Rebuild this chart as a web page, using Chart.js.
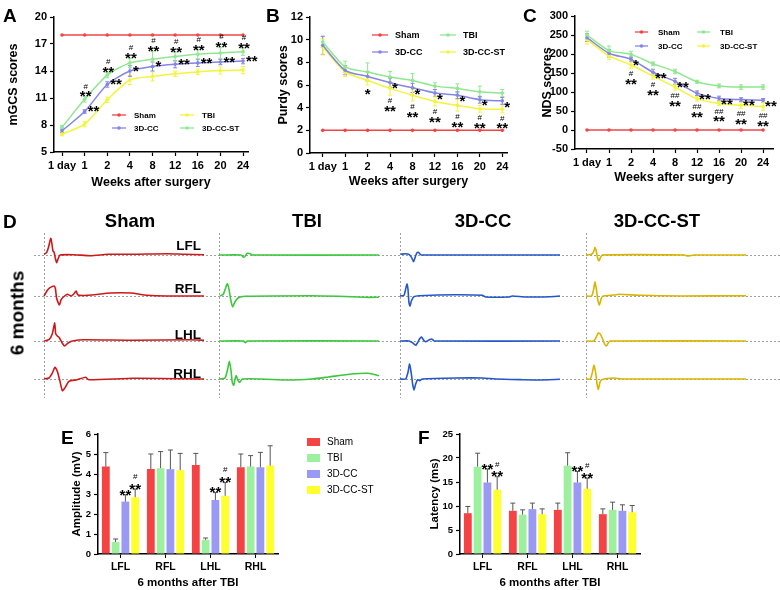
<!DOCTYPE html>
<html><head><meta charset="utf-8">
<script src="https://cdn.jsdelivr.net/npm/chart.js@4.4.1/dist/chart.umd.min.js"></script>
<style>
body{margin:0;background:#fff;}
#wrap{position:relative;width:780px;height:590px;overflow:hidden;font-family:"Liberation Sans",Arial,sans-serif;background:#fff;}
canvas{position:absolute;}
.t{position:absolute;font-weight:bold;line-height:1;white-space:nowrap;color:#000;}
.pl{font-size:19px;}
.hd{font-size:18.5px;transform:translateX(-50%);}
.lb{font-size:13.5px;}
</style></head><body>
<div id="wrap">
  <canvas id="cA" width="260" height="200" style="left:0;top:0"></canvas>
  <canvas id="cB" width="260" height="200" style="left:255px;top:0"></canvas>
  <canvas id="cC" width="265" height="200" style="left:515px;top:0"></canvas>
  <canvas id="cD" width="780" height="172" style="left:0;top:228px"></canvas>
  <canvas id="cE" width="400" height="180" style="left:0;top:410px"></canvas>
  <canvas id="cF" width="380" height="180" style="left:400px;top:410px"></canvas>

  <div class="t pl" style="left:3px;top:6px">A</div>
  <div class="t pl" style="left:266px;top:6px">B</div>
  <div class="t pl" style="left:523px;top:6px">C</div>
  <div class="t pl" style="left:3px;top:212px">D</div>
  <div class="t pl" style="left:61px;top:428px">E</div>
  <div class="t pl" style="left:418px;top:428px">F</div>

  <div class="t hd" style="left:130px;top:212px">Sham</div>
  <div class="t hd" style="left:307px;top:212px">TBI</div>
  <div class="t hd" style="left:483px;top:212px">3D-CC</div>
  <div class="t hd" style="left:657px;top:212px">3D-CC-ST</div>
  <div class="t" style="left:17px;top:313px;font-size:19px;transform:translate(-50%,-50%) rotate(-90deg);">6 months</div>

  <div class="t lb" style="right:579px;top:239px">LFL</div>
  <div class="t lb" style="right:579px;top:282px">RFL</div>
  <div class="t lb" style="right:579px;top:328px">LHL</div>
  <div class="t lb" style="right:579px;top:367px">RHL</div>
</div>
<script>
// ---------------- DATA ----------------
const weekLabels = ['1 day','1','2','4','8','12','16','20','24'];
const groupNames = ['Sham','TBI','3D-CC','3D-CC-ST'];
const limbs = ['LFL','RFL','LHL','RHL'];

// Panel A: mGCS scores
const mgcsTicks = [5, 8, 11, 14, 17, 20];
const mgcsSham = [18, 18, 18, 18, 18, 18, 18, 18, 18];
const mgcsTBI  = [7.0, 8.1, 10.8, 13.0, 13.4, 13.7, 13.9, 14.05, 14.1];
const mgcsCC   = [7.35, 9.5, 12.5, 14.0, 14.5, 14.75, 14.9, 15.0, 15.1];
const mgcsST   = [7.75, 10.85, 13.55, 14.9, 15.3, 15.6, 15.85, 16.0, 16.15];
const mgcsErrTBI = [0.2, 0.3, 0.3, 0.5, 0.5, 0.3, 0.3, 0.4, 0.4];
const mgcsErrCC  = [0.2, 0.2, 0.3, 0.6, 0.5, 0.4, 0.4, 0.3, 0.3];
const mgcsErrST  = [0.2, 0.3, 0.3, 0.5, 0.9, 0.5, 0.5, 0.6, 0.4];
const mgcsStarsCC = ['', '**', '**', '*', '*', '**', '**', '**', '**'];
const mgcsStarsST = ['', '**', '**', '**', '**', '**', '**', '**', '**'];
const mgcsHashST  = ['', '#', '#', '#', '#', '#', '#', '#', '#'];

// Panel B: Purdy scores
const purdyTicks = [0, 2, 4, 6, 8, 10, 12];
const purdySham = [2, 2, 2, 2, 2, 2, 2, 2, 2];
const purdyTBI  = [9.8, 7.6, 7.15, 6.7, 6.4, 5.9, 5.7, 5.4, 5.3];
const purdyCC   = [9.5, 7.3, 6.75, 6.2, 5.75, 5.3, 5.1, 4.7, 4.6];
const purdyST   = [9.35, 7.15, 6.4, 5.7, 5.1, 4.55, 4.2, 3.9, 3.85];
const purdyErrTBI = [0.5, 0.5, 0.8, 0.5, 0.6, 0.3, 0.4, 0.5, 0.3];
const purdyErrCC  = [0.8, 0.4, 0.4, 0.4, 0.4, 0.3, 0.3, 0.3, 0.3];
const purdyErrST  = [0.7, 0.4, 0.4, 0.6, 0.5, 0.4, 0.5, 0.3, 0.3];
const purdyStarsCC = ['', '', '', '*', '*', '*', '*', '*', '*'];
const purdyStarsST = ['', '', '*', '**', '**', '**', '**', '**', '**'];
const purdyHashST  = ['', '', '', '#', '#', '#', '#', '#', '#'];

// Panel C: NDS scores
const ndsTicks = [-50, 0, 50, 100, 150, 200, 250, 300];
const ndsSham = [0, 0, 0, 0, 0, 0, 0, 0, 0];
const ndsTBI  = [250, 209, 199, 174, 154, 127, 116, 113, 113];
const ndsCC   = [243, 202, 186, 152, 128, 97, 83, 80, 78];
const ndsST   = [238, 195, 171, 142, 113, 82, 70, 65, 62];
const ndsErrTBI = [10, 12, 8, 5, 6, 4, 5, 6, 6];
const ndsErrCC  = [10, 10, 6, 8, 8, 6, 6, 5, 5];
const ndsErrST  = [12, 10, 8, 8, 8, 6, 6, 8, 10];
const ndsStarsCC = ['', '', '*', '**', '**', '**', '**', '**', '**'];
const ndsStarsST = ['', '', '**', '**', '**', '**', '**', '**', '**'];
const ndsHashST  = ['', '', '#', '#', '##', '##', '##', '##', '##'];

// Panel D: representative MEP waveforms (x: ms, y: mV)
const shamLFL = [[0,0.07],[0.17,0.27],[0.29,0.83],[0.42,1.67],[0.5,1.07],[0.56,0.4],[0.63,0.27],[0.71,-0.33],[0.79,-0.77],[0.875,-0.4],[1.0,0],[1.875,0.03],[2.92,-0.07],[3.96,0.07],[5.6,0.07],[7.7,0.13],[8.75,0.07],[10,0.03]];
const shamRFL = [[0,0],[0.21,0.57],[0.375,0.83],[0.625,1.0],[0.71,0.77],[0.79,-0.23],[0.96,-0.9],[1.08,-0.33],[1.29,0],[1.46,0.17],[1.71,0],[1.875,0.23],[2.0,0.5],[2.125,0.1],[2.71,0.07],[4.17,0.3],[5.42,0.3],[6.46,0.07],[7.7,0],[10,0]];
const shamLHL = [[0,0],[0.31,0.13],[0.52,0.73],[0.67,1.83],[0.73,0.73],[0.83,0.5],[0.96,0.33],[1.125,-0.17],[1.29,-0.5],[1.5,-0.2],[1.77,0],[2.5,0.13],[5.6,0.07],[9.17,0.13],[10,0.07]];
const shamRHL = [[0,0],[0.31,0.1],[0.52,0.6],[0.69,1.17],[0.83,0.77],[0.98,-0.1],[1.15,-1.17],[1.35,-0.77],[1.56,-0.23],[2.08,-0.07],[2.6,0.17],[2.8,-0.07],[5.6,0.07],[10,0]];
const tbiLFL = [[0,0],[1.375,0],[1.54,-0.23],[1.65,-0.07],[1.77,0.17],[1.96,0.13],[2.08,0],[10,0]];
const tbiRFL = [[0.06,0],[0.27,0.17],[0.42,0.83],[0.52,1.23],[0.625,0.67],[0.73,-0.33],[0.85,-1.07],[1.0,-0.57],[1.21,-0.17],[1.625,-0.03],[5.79,0.03],[7.46,-0.03],[9.125,-0.13],[10,-0.13]];
const tbiLHL = [[0,0],[1.52,0],[1.65,-0.17],[1.77,0],[10,0]];
const tbiRHL = [[0.06,0],[0.375,0.1],[0.52,0.83],[0.65,1.77],[0.75,0.83],[0.83,-0.33],[0.92,-0.63],[1.0,-0.03],[1.08,0.33],[1.19,-0.17],[1.29,-0.33],[1.46,0],[2.67,0],[4.33,-0.1],[5.79,0],[6.83,0.2],[8.29,0.5],[9.33,0.57],[10,0.33]];
const ccLFL = [[0.04,0.07],[0.35,0.13],[0.56,0.07],[0.73,-0.27],[0.85,-0.67],[0.94,-0.27],[1.04,0.17],[1.15,0.27],[1.27,0.07],[1.4,0],[10,0]];
const ccRFL = [[0,0],[0.25,0.07],[0.35,0.67],[0.44,1.23],[0.5,0.67],[0.56,-0.67],[0.625,-1.0],[0.71,-0.5],[0.875,-0.07],[1.19,0.03],[3.48,0.13],[5.15,0.07],[5.35,-0.1],[6.81,-0.1],[7.02,0],[7.85,-0.1],[9.31,-0.07],[10,0]];
const ccLHL = [[0,0],[0.56,0],[0.77,-0.17],[0.98,-0.43],[1.1,-0.17],[1.23,0.23],[1.35,0.4],[1.48,0.07],[1.6,-0.07],[1.81,0.1],[1.98,0.2],[2.15,0],[10,0]];
const ccRHL = [[0,0],[0.35,0],[0.5,0.67],[0.6,1.5],[0.71,0.5],[0.79,-0.5],[0.875,-1.1],[0.98,-0.5],[1.1,-0.07],[1.23,-0.17],[1.4,0],[3.48,0.1],[5.15,0.1],[5.98,0],[7.65,-0.07],[8.69,-0.1],[10,-0.03]];
const stLFL = [[0,0],[0.35,0.07],[0.48,0.33],[0.56,0.77],[0.65,0.33],[0.73,-0.33],[0.81,-0.57],[0.9,-0.27],[1.02,0],[6.15,0],[6.35,-0.1],[6.77,0],[10,0]];
const stRFL = [[0,0],[0.35,0],[0.48,0.67],[0.56,1.43],[0.65,0.67],[0.73,-0.33],[0.83,-0.9],[0.94,-0.33],[1.04,-0.03],[1.77,0.1],[2.08,0.17],[3.44,0.07],[5.94,0],[10,0.03]];
const stLHL = [[0,0],[0.48,0],[0.625,0.33],[0.77,0.8],[0.9,0.67],[1.02,0.27],[1.15,-0.27],[1.27,-0.5],[1.4,-0.17],[1.52,0],[10,0]];
const stRHL = [[0,0],[0.27,0],[0.4,0.67],[0.5,1.4],[0.6,0.67],[0.69,-0.5],[0.77,-1.03],[0.875,-0.33],[0.98,-0.07],[1.77,0.1],[2.19,0],[10,0]];

// Panel E: amplitude (mV)
const ampTicks = [0, 1, 2, 3, 4, 5, 6];
const ampSham = [4.37, 4.25, 4.45, 4.34];
const ampTBI  = [0.60, 4.29, 0.71, 4.37];
const ampCC   = [2.62, 4.24, 2.70, 4.34];
const ampST   = [2.84, 4.19, 2.91, 4.42];
const ampErrSham = [0.70, 0.75, 0.58, 0.66];
const ampErrTBI  = [0.15, 0.83, 0.09, 0.55];
const ampErrCC   = [0.34, 0.96, 0.37, 0.74];
const ampErrST   = [0.40, 0.84, 0.66, 0.99];
const ampStarsCC = ['**', '', '**', ''];
const ampStarsST = ['**', '', '**', ''];
const ampHashST  = ['#', '', '#', ''];

// Panel F: latency (ms)
const latTicks = [0, 5, 10, 15, 20, 25];
const latSham = [8.5, 9.0, 9.2, 8.3];
const latTBI  = [18.2, 8.2, 18.4, 9.2];
const latCC   = [14.9, 9.35, 14.9, 9.0];
const latST   = [13.4, 8.3, 13.6, 8.7];
const latErrSham = [1.4, 1.6, 1.4, 1.1];
const latErrTBI  = [2.8, 1.0, 2.7, 1.6];
const latErrCC   = [2.8, 1.25, 2.3, 1.25];
const latErrST   = [2.7, 1.1, 2.2, 1.4];
const latStarsCC = ['**', '', '**', ''];
const latStarsST = ['**', '', '**', ''];
const latHashST  = ['#', '', '#', ''];

// ---------------- STYLE ----------------
const FONT = '"Liberation Sans", Arial, sans-serif';
Chart.defaults.font.family = FONT;
Chart.defaults.color = '#000';
const cRed = '#ef4646', cGreen = '#8fe88f', cBlue = '#8585e6', cYellow = '#f4f43c';
const barRed = '#f54242', barGreen = '#9df09d', barBlue = '#9a9af4', barYellow = '#ffff2e';
const waveColors = ['#cc1a1a', '#3cc83c', '#2557c8', '#d9b500'];

// ---------------- PLUGINS ----------------
const valOf = v => (v !== null && typeof v === 'object') ? v.y : v;

function drawErr(chart, opts) {
  const ctx = chart.ctx;
  chart.data.datasets.forEach((ds, di) => {
    if (!ds.errors) return;
    const meta = chart.getDatasetMeta(di);
    const ys = chart.scales[meta.yAxisID];
    ctx.save();
    ctx.strokeStyle = opts.color || ds.borderColor;
    ctx.lineWidth = opts.width || 1;
    meta.data.forEach((el, i) => {
      const e = ds.errors[i];
      if (!e) return;
      const v = valOf(ds.data[i]);
      const x = el.x;
      const yT = ys.getPixelForValue(v + e);
      const yB = opts.upOnly ? ys.getPixelForValue(v) : ys.getPixelForValue(v - e);
      const cap = opts.cap || 2;
      ctx.beginPath();
      ctx.moveTo(x, yB); ctx.lineTo(x, yT);
      ctx.moveTo(x - cap, yT); ctx.lineTo(x + cap, yT);
      if (!opts.upOnly) { ctx.moveTo(x - cap, yB); ctx.lineTo(x + cap, yB); }
      ctx.stroke();
    });
    ctx.restore();
  });
}
const errPlugin = {
  id: 'errbars',
  beforeDatasetsDraw(chart, args, opts) { if (opts.layer === 'before') drawErr(chart, opts); },
  afterDatasetsDraw(chart, args, opts) { if (opts.layer !== 'before') drawErr(chart, opts); }
};

const sigPlugin = {
  id: 'sig',
  afterDatasetsDraw(chart, args, opts) {
    const ctx = chart.ctx;
    const sSize = opts.starSize || 15, hSize = opts.hashSize || 8;
    const drawStars = (t, x, cy, align) => {
      ctx.font = 'bold ' + sSize + 'px ' + FONT; ctx.textAlign = align; ctx.textBaseline = 'alphabetic';
      ctx.fillText(t, x, cy + 0.58 * sSize);
    };
    const drawHash = (t, x, cy, align) => {
      ctx.font = hSize + 'px ' + FONT; ctx.textAlign = align; ctx.textBaseline = 'alphabetic';
      ctx.fillText(t, x, cy + 0.36 * hSize);
    };
    ctx.save();
    ctx.fillStyle = '#000';
    (opts.marks || []).forEach(m => {
      const ds = chart.data.datasets[m.ds];
      const meta = chart.getDatasetMeta(m.ds);
      const ys = chart.scales[meta.yAxisID];
      meta.data.forEach((el, i) => {
        const st = (m.stars && m.stars[i]) || '';
        const hs = (m.hash && m.hash[i]) || '';
        if (!st && !hs) return;
        const v = valOf(ds.data[i]);
        const e = ds.errors ? (ds.errors[i] || 0) : 0;
        const x = el.x + (m.dx || 0);
        if (m.mode === 'above') {
          let cy = ys.getPixelForValue(v + e) - (m.gap || 5);
          if (st) { drawStars(st, x, cy, 'center'); cy -= (m.step || 7); }
          if (hs) drawHash(hs, x + (m.hdx || 0), cy, 'center');
        } else if (m.mode === 'below') {
          let cy = ys.getPixelForValue(v - e) + (m.gap || 5);
          if (hs) { drawHash(hs, x, cy, 'center'); cy += (m.step || 7); }
          if (st) drawStars(st, x, cy, 'center');
        } else {
          const cy = el.y + (m.dy || 0);
          if (st) drawStars(st, x, cy, 'left');
        }
      });
    });
    ctx.restore();
  }
};

const lineLegend = {
  id: 'lineLegend',
  afterDraw(chart, args, opts) {
    if (!opts.items) return;
    const ctx = chart.ctx, a = chart.chartArea;
    ctx.save();
    ctx.font = 'bold ' + opts.size + 'px ' + FONT;
    ctx.textBaseline = 'middle'; ctx.textAlign = 'left';
    opts.items.forEach(it => {
      const ds = chart.data.datasets[it.ds];
      const x = a.left + it.x, y = a.top + it.y;
      ctx.strokeStyle = ds.borderColor; ctx.lineWidth = 1.3;
      ctx.beginPath(); ctx.moveTo(x, y); ctx.lineTo(x + opts.len, y); ctx.stroke();
      ctx.fillStyle = ds.borderColor;
      ctx.beginPath(); ctx.arc(x + opts.len / 2, y, 1.8, 0, Math.PI * 2); ctx.fill();
      ctx.fillStyle = '#000';
      ctx.fillText(ds.label, x + opts.len + opts.gap, y + 0.5);
    });
    ctx.restore();
  }
};

const boxLegend = {
  id: 'boxLegend',
  afterDraw(chart, args, opts) {
    if (!opts.show) return;
    const ctx = chart.ctx, a = chart.chartArea;
    ctx.save();
    ctx.font = opts.size + 'px ' + FONT;
    ctx.textBaseline = 'middle'; ctx.textAlign = 'left';
    chart.data.datasets.forEach((ds, i) => {
      const x = a.right + opts.x, y = a.top + opts.y + i * opts.row;
      ctx.fillStyle = ds.backgroundColor;
      ctx.fillRect(x, y - 4, 13, 8);
      ctx.fillStyle = '#000';
      ctx.fillText(ds.label, x + 20, y + 0.5);
    });
    ctx.restore();
  }
};

// ---------------- HELPERS ----------------
function yAxis(min, max, ticks, title, width, tickSize, titleSize) {
  return {
    type: 'linear', min, max,
    afterBuildTicks: s => { s.ticks = ticks.map(v => ({ value: v })); },
    afterFit: s => { s.width = width; },
    border: { display: true, color: '#000', width: 1.5 },
    grid: { display: true, drawOnChartArea: false, drawTicks: true, tickLength: 4, color: '#000', tickWidth: 1.2 },
    ticks: { color: '#000', font: { size: tickSize, weight: 'bold' }, padding: 3 },
    title: { display: true, text: title, color: '#000', font: { size: titleSize, weight: 'bold' }, padding: 0 }
  };
}
function xWeeks(min, max, height) {
  return {
    type: 'linear', min, max,
    afterBuildTicks: s => { s.ticks = weekLabels.map((c, i) => ({ value: i })); },
    afterFit: s => { s.height = height; },
    border: { display: true, color: '#000', width: 1.5 },
    grid: { display: true, drawOnChartArea: false, drawTicks: true, tickLength: 4, color: '#000', tickWidth: 1.2 },
    ticks: { color: '#000', font: { size: 11, weight: 'bold' }, padding: 3, autoSkip: false, maxRotation: 0,
      callback: v => weekLabels[v] },
    title: { display: true, text: 'Weeks after surgery', color: '#000', font: { size: 12.5, weight: 'bold' }, padding: 0 }
  };
}
const toXY = arr => arr.map((v, i) => ({ x: i, y: v }));
function lineDs(label, data, errs, color) {
  return { label, data: toXY(data), errors: errs, borderColor: color, backgroundColor: color,
    borderWidth: 1.5, pointRadius: 1.8, pointBorderWidth: 0, pointBackgroundColor: color, tension: 0.25, fill: false };
}
const common = { responsive: false, animation: false, devicePixelRatio: 1, events: [] };

// ---------------- PANEL A ----------------
new Chart(document.getElementById('cA'), {
  type: 'line',
  data: { datasets: [
    lineDs(groupNames[0], mgcsSham, null, cRed),
    lineDs(groupNames[1], mgcsTBI, mgcsErrTBI, cYellow),
    lineDs(groupNames[2], mgcsCC, mgcsErrCC, cBlue),
    lineDs(groupNames[3], mgcsST, mgcsErrST, cGreen)
  ]},
  options: Object.assign({}, common, {
    layout: { padding: { left: 6, top: 17, right: 12, bottom: 10 } },
    scales: { x: xWeeks(-0.354, 8.22, 38), y: yAxis(5, 20, mgcsTicks, 'mGCS scores', 48, 11, 12.5) },
    plugins: {
      legend: { display: false }, tooltip: { enabled: false },
      errbars: { layer: 'before', cap: 2 },
      sig: { starSize: 15, hashSize: 8, marks: [
        { ds: 3, mode: 'above', stars: mgcsStarsST, hash: mgcsHashST, dx: 1, gap: 4, step: 7 },
        { ds: 2, mode: 'right', stars: mgcsStarsCC, dx: 3, dy: -4 }
      ]},
      lineLegend: { size: 8, len: 14, gap: 8, items: [
        { ds: 0, x: 58, y: 98 }, { ds: 1, x: 126, y: 98 },
        { ds: 2, x: 58, y: 111 }, { ds: 3, x: 126, y: 111 }
      ]}
    }
  }),
  plugins: [errPlugin, sigPlugin, lineLegend]
});

// ---------------- PANEL B ----------------
new Chart(document.getElementById('cB'), {
  type: 'line',
  data: { datasets: [
    lineDs(groupNames[0], purdySham, null, cRed),
    lineDs(groupNames[1], purdyTBI, purdyErrTBI, cGreen),
    lineDs(groupNames[2], purdyCC, purdyErrCC, cBlue),
    lineDs(groupNames[3], purdyST, purdyErrST, cYellow)
  ]},
  options: Object.assign({}, common, {
    layout: { padding: { left: 21, top: 17, right: 8, bottom: 11 } },
    scales: { x: xWeeks(-0.566, 8.21, 36), y: yAxis(0, 12, purdyTicks, 'Purdy scores', 34, 11, 12.5) },
    plugins: {
      legend: { display: false }, tooltip: { enabled: false },
      errbars: { layer: 'before', cap: 2 },
      sig: { starSize: 15, hashSize: 8, marks: [
        { ds: 3, mode: 'below', stars: purdyStarsST, hash: purdyHashST, dx: 0, gap: 5, step: 7 },
        { ds: 2, mode: 'right', stars: purdyStarsCC, dx: 2, dy: 2 }
      ]},
      lineLegend: { size: 9, len: 16, gap: 7, items: [
        { ds: 0, x: 62, y: 18 }, { ds: 1, x: 130, y: 18 },
        { ds: 2, x: 62, y: 35 }, { ds: 3, x: 130, y: 35 }
      ]}
    }
  }),
  plugins: [errPlugin, sigPlugin, lineLegend]
});

// ---------------- PANEL C ----------------
new Chart(document.getElementById('cC'), {
  type: 'line',
  data: { datasets: [
    lineDs(groupNames[0], ndsSham, null, cRed),
    lineDs(groupNames[1], ndsTBI, ndsErrTBI, cGreen),
    lineDs(groupNames[2], ndsCC, ndsErrCC, cBlue),
    lineDs(groupNames[3], ndsST, ndsErrST, cYellow)
  ]},
  options: Object.assign({}, common, {
    layout: { padding: { left: 25, top: 16, right: 7, bottom: 15 } },
    scales: { x: xWeeks(-0.545, 8.45, 36), y: yAxis(-50, 300, ndsTicks, 'NDS scores', 35, 11, 12.5) },
    plugins: {
      legend: { display: false }, tooltip: { enabled: false },
      errbars: { layer: 'before', cap: 2 },
      sig: { starSize: 15, hashSize: 8, marks: [
        { ds: 3, mode: 'below', stars: ndsStarsST, hash: ndsHashST, dx: 0, gap: 5, step: 7 },
        { ds: 2, mode: 'right', stars: ndsStarsCC, dx: 2, dy: 2 }
      ]},
      lineLegend: { size: 8, len: 13, gap: 10, items: [
        { ds: 0, x: 60, y: 16 }, { ds: 1, x: 122, y: 16 },
        { ds: 2, x: 60, y: 30 }, { ds: 3, x: 122, y: 30 }
      ]}
    }
  }),
  plugins: [errPlugin, sigPlugin, lineLegend]
});

// ---------------- PANEL D ----------------
const waveGrid = [
  [shamLFL, shamRFL, shamLHL, shamRHL],
  [tbiLFL, tbiRFL, tbiLHL, tbiRHL],
  [ccLFL, ccRFL, ccLHL, ccRHL],
  [stLFL, stRFL, stLHL, stRHL]
];
const colIds = ['xSham', 'xTBI', 'xCC', 'xST'];
const rowIds = ['yLFL', 'yRFL', 'yLHL', 'yRHL'];
const colMax = [10.31, 10.69, 11.0, 12.125];
const colW = [175, 181, 186, 204];
const rowMin = [-2.0, -2.2, -1.9, -1.9], rowMax = [2.2, 2.1, 2.3, 1.9], rowW = [42, 43, 42, 38];
const dScales = {};
colIds.forEach((id, c) => {
  dScales[id] = { type: 'linear', axis: 'x', position: 'bottom', stack: 'cols', stackWeight: colW[c], weight: c,
    display: false, min: -0.625, max: colMax[c] };
});
rowIds.forEach((id, r) => {
  dScales[id] = { type: 'linear', axis: 'y', position: 'left', stack: 'rows', stackWeight: rowW[r], weight: 4 - r,
    display: false, min: rowMin[r], max: rowMax[r] };
});
const dDatasets = [];
waveGrid.forEach((col, c) => col.forEach((trace, r) => {
  dDatasets.push({ label: groupNames[c] + ' ' + limbs[r], data: trace.map(p => ({ x: p[0], y: p[1] })),
    xAxisID: colIds[c], yAxisID: rowIds[r], borderColor: waveColors[c], borderWidth: 1.6,
    pointRadius: 0, showLine: true, tension: 0.2, fill: false });
}));
const refLines = {
  id: 'refLines',
  beforeDatasetsDraw(chart) {
    const ctx = chart.ctx, a = chart.chartArea;
    ctx.save(); ctx.strokeStyle = '#a0a0a0'; ctx.lineWidth = 1; ctx.setLineDash([2, 2]);
    rowIds.forEach(id => {
      const y = Math.round(chart.scales[id].getPixelForValue(0)) + 0.5;
      ctx.beginPath(); ctx.moveTo(a.left, y); ctx.lineTo(a.right, y); ctx.stroke();
    });
    colIds.forEach(id => {
      const x = Math.round(chart.scales[id].getPixelForValue(0)) + 0.5;
      ctx.beginPath(); ctx.moveTo(x, a.top); ctx.lineTo(x, a.bottom); ctx.stroke();
    });
    ctx.restore();
  }
};
new Chart(document.getElementById('cD'), {
  type: 'scatter',
  data: { datasets: dDatasets },
  options: Object.assign({}, common, {
    layout: { padding: { left: 34, top: 5, right: 0, bottom: 2 } },
    scales: dScales,
    plugins: { legend: { display: false }, tooltip: { enabled: false } }
  }),
  plugins: [refLines]
});

// ---------------- PANELS E, F ----------------
function barDs(label, data, errs, color) {
  return { label, data, errors: errs, backgroundColor: color, borderWidth: 0,
    categoryPercentage: 0.87, barPercentage: 0.8 };
}
function barChart(id, sets, ticks, min, max, yTitle, pad, yW, marks) {
  new Chart(document.getElementById(id), {
    type: 'bar',
    data: { labels: limbs, datasets: sets },
    options: Object.assign({}, common, {
      layout: { padding: pad },
      scales: {
        x: {
          afterFit: s => { s.height = 36; },
          border: { display: true, color: '#000', width: 1.5 },
          grid: { display: true, drawOnChartArea: false, drawTicks: true, tickLength: 4, color: '#000', offset: false },
          ticks: { color: '#000', font: { size: 10.5, weight: 'bold' }, padding: 3 },
          title: { display: true, text: '6 months after TBI', color: '#000', font: { size: 11.5, weight: 'bold' }, padding: 0 }
        },
        y: yAxis(min, max, ticks, yTitle, yW, 9.5, 11.5)
      },
      plugins: {
        legend: { display: false }, tooltip: { enabled: false },
        errbars: { layer: 'after', upOnly: true, cap: 2.5, color: '#555', width: 1 },
        sig: { starSize: 15, hashSize: 8, marks },
        boxLegend: { show: id === 'cE', size: 10, x: 29, y: 8, row: 16 }
      }
    }),
    plugins: [errPlugin, sigPlugin, boxLegend]
  });
}
barChart('cE', [
  barDs(groupNames[0], ampSham, ampErrSham, barRed),
  barDs(groupNames[1], ampTBI, ampErrTBI, barGreen),
  barDs(groupNames[2], ampCC, ampErrCC, barBlue),
  barDs(groupNames[3], ampST, ampErrST, barYellow)
], ampTicks, 0, 6, 'Amplitude (mV)', { left: 70, top: 24, right: 122, bottom: 0 }, 28, [
  { ds: 2, mode: 'above', stars: ampStarsCC, gap: 4, step: 9 },
  { ds: 3, mode: 'above', stars: ampStarsST, hash: ampHashST, gap: 4, step: 9 }
]);
barChart('cF', [
  barDs(groupNames[0], latSham, latErrSham, barRed),
  barDs(groupNames[1], latTBI, latErrTBI, barGreen),
  barDs(groupNames[2], latCC, latErrCC, barBlue),
  barDs(groupNames[3], latST, latErrST, barYellow)
], latTicks, 0, 25, 'Latency (ms)', { left: 28, top: 24, right: 140, bottom: 0 }, 32, [
  { ds: 2, mode: 'above', stars: latStarsCC, gap: 4, step: 9 },
  { ds: 3, mode: 'above', stars: latStarsST, hash: latHashST, gap: 4, step: 9 }
]);
</script>
</body></html>
